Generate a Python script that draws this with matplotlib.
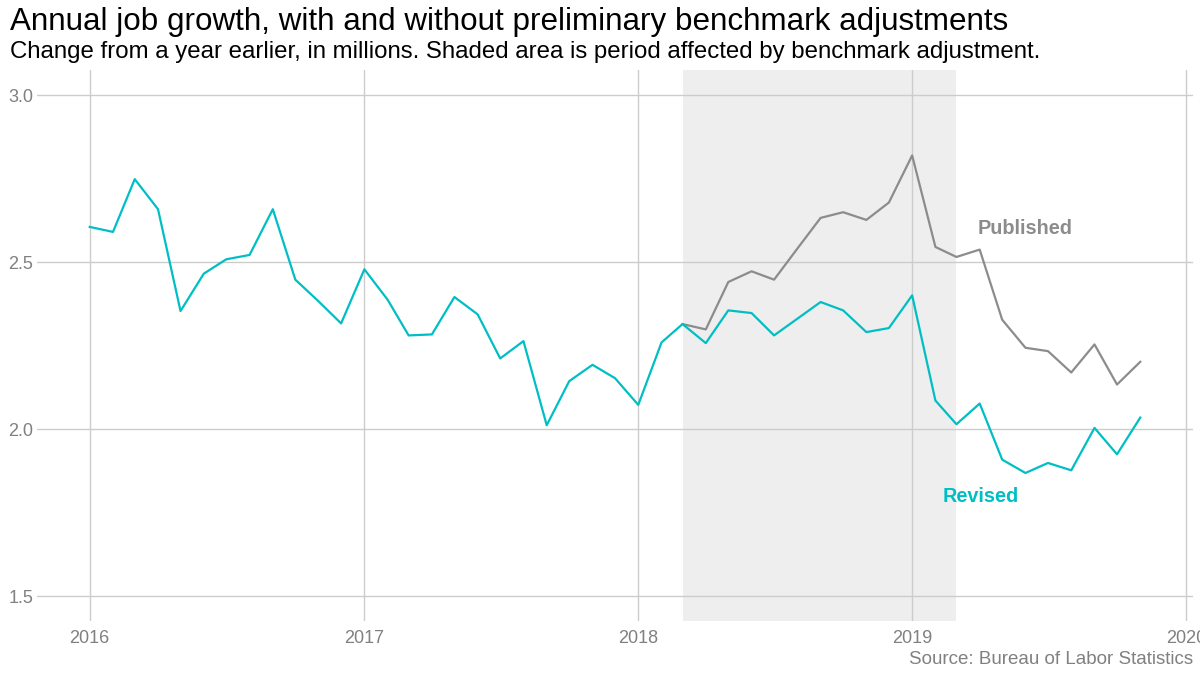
import numpy as np
import pandas as pd
import matplotlib
matplotlib.use("Agg")
import matplotlib.pyplot as plt
import matplotlib.dates as mdates

plt.rcParams['font.family'] = ['Liberation Sans', 'DejaVu Sans']

# monthly data, change from a year earlier, in millions
revisedDates = pd.date_range("2016-01-01", "2019-11-01", freq="MS")
revised = [2.606, 2.591, 2.749, 2.659, 2.354, 2.466, 2.509, 2.522, 2.659, 2.448, 2.383, 2.317,
           2.479, 2.388, 2.281, 2.284, 2.396, 2.344, 2.212, 2.264, 2.012, 2.144, 2.193, 2.153,
           2.073, 2.260, 2.315, 2.258, 2.356, 2.348, 2.281, 2.331, 2.381, 2.356, 2.291, 2.303,
           2.401, 2.086, 2.015, 2.077, 1.909, 1.869, 1.899, 1.877, 2.004, 1.925, 2.035]
publishedDates = pd.date_range("2018-03-01", "2019-11-01", freq="MS")
published = [2.315, 2.299, 2.441, 2.473, 2.448, 2.541, 2.633, 2.650, 2.627, 2.679, 2.820,
             2.546, 2.516, 2.538, 2.328, 2.244, 2.234, 2.170, 2.254, 2.134, 2.202]
shadeStart = pd.Timestamp("2018-03-01")
shadeEnd = pd.Timestamp("2019-03-01")
yearTicks = pd.to_datetime(["2016-01-01", "2017-01-01", "2018-01-01", "2019-01-01", "2020-01-01"])
yearLabels = ["2016", "2017", "2018", "2019", "2020"]
yTicks = [1.5, 2.0, 2.5, 3.0]

teal = "#00BFC4"
grey = "#8C8C8C"

fig = plt.figure(figsize=(12, 6.76), dpi=100)
ax = fig.add_axes([0.031, 0.081, 0.963, 0.815])

ax.axvspan(shadeStart, shadeEnd, color="#EEEEEE", zorder=0, lw=0)
ax.plot(publishedDates, published, color=grey, lw=1.6, zorder=3)
ax.plot(revisedDates, revised, color=teal, lw=1.6, zorder=4)

#ggplot style expansion
pad = (revisedDates[-1] - revisedDates[0]) * 0.05
ax.set_xlim(revisedDates[0] - pad, revisedDates[-1] + pad)
ax.set_ylim(1.425, 3.075)

ax.set_xticks(yearTicks)
ax.set_xticklabels(yearLabels)
ax.set_yticks(yTicks)
ax.set_yticklabels(["%.1f" % v for v in yTicks])
ax.tick_params(length=0, labelsize=13, labelcolor="#808080", pad=6)
ax.tick_params(axis="y", pad=3)
ax.grid(True, color="#CCCCCC", lw=1)
ax.set_axisbelow(True)
for s in ax.spines.values():
    s.set_visible(False)

ax.text(pd.Timestamp("2019-06-01"), 2.6, "Published", color=grey, fontsize=14.3,
        fontweight="bold", ha="center", va="center")
ax.text(pd.Timestamp("2019-04-02"), 1.8, "Revised", color=teal, fontsize=14.3,
        fontweight="bold", ha="center", va="center")

fig.text(0.008, 0.955, "Annual job growth, with and without preliminary benchmark adjustments",
         fontsize=22.6, color="black", ha="left", va="baseline")
fig.text(0.008, 0.914, "Change from a year earlier, in millions. Shaded area is period affected by benchmark adjustment.",
         fontsize=17.3, color="black", ha="left", va="baseline")
fig.text(0.994, 0.018, "Source: Bureau of Labor Statistics", fontsize=13.5, color="#808080",
         ha="right", va="baseline")

fig.savefig("out.png", dpi=100)
